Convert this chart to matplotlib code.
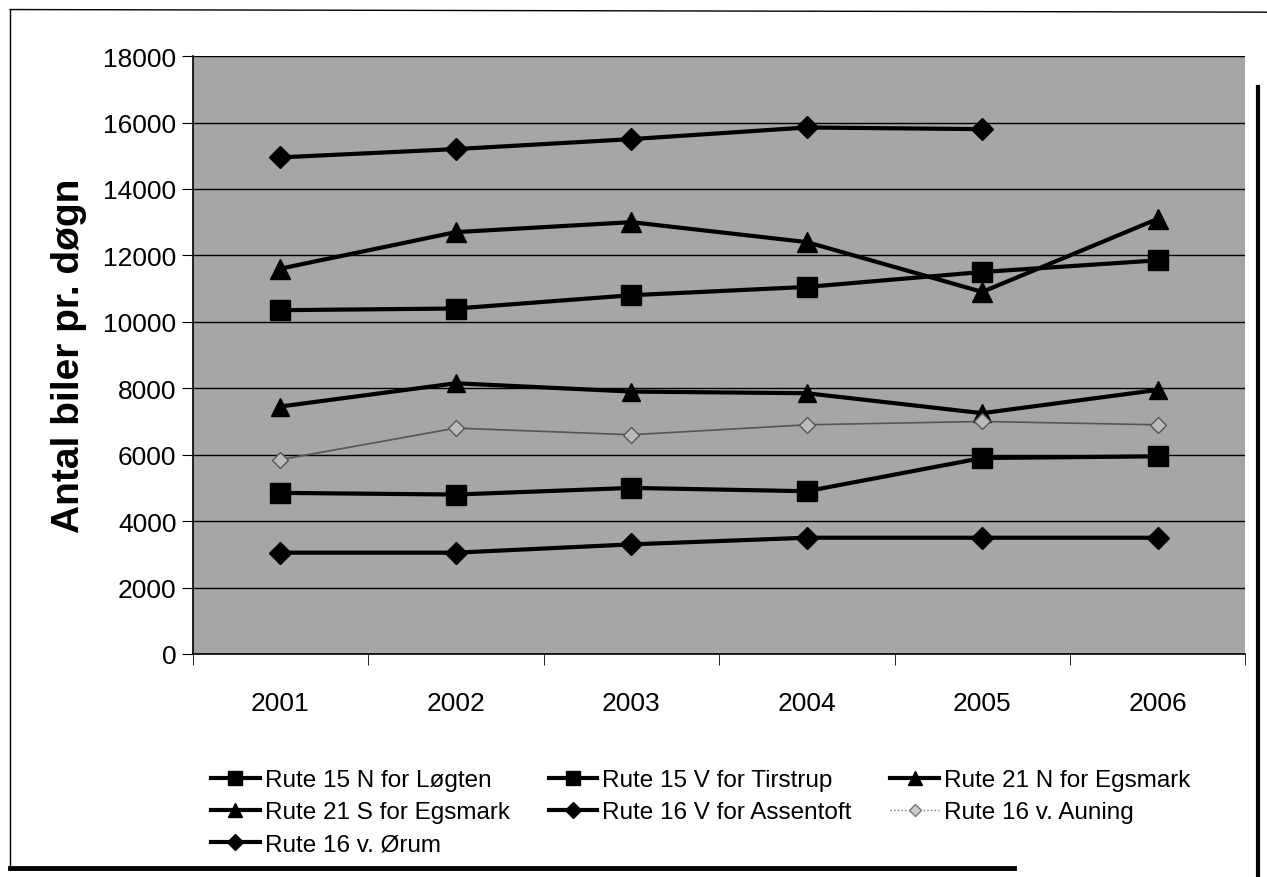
import matplotlib
matplotlib.use("Agg")
import matplotlib.pyplot as plt
from matplotlib.lines import Line2D

# data
years = ["2001", "2002", "2003", "2004", "2005", "2006"]
r15n_loegten = [10350, 10400, 10800, 11050, 11500, 11850]
r15v_tirstrup = [4850, 4800, 5000, 4900, 5900, 5950]
r21n_egsmark = [11600, 12700, 13000, 12400, 10900, 13100]
r21s_egsmark = [7450, 8150, 7900, 7850, 7250, 7950]
r16v_assentoft = [14950, 15200, 15500, 15850, 15800, None]
r16_auning = [5850, 6800, 6600, 6900, 7000, 6900]
r16_oerum = [3050, 3050, 3300, 3500, 3500, 3500]

labels = ["Rute 15 N for Løgten", "Rute 15 V for Tirstrup", "Rute 21 N for Egsmark",
          "Rute 21 S for Egsmark", "Rute 16 V for Assentoft", "Rute 16 v. Auning",
          "Rute 16 v. Ørum"]

plt.rcParams['font.family'] = ['Liberation Sans', 'DejaVu Sans']

fig = plt.figure(figsize=(12.67, 8.78), dpi=100)
ax = fig.add_axes([0.152, 0.254, 0.831, 0.681])
ax.set_facecolor('#a6a6a6')

x = list(range(1, len(years) + 1))

def clean(vals):
    xs = [xi for xi, v in zip(x, vals) if v is not None]
    ys = [v for v in vals if v is not None]
    return xs, ys

series = [
    (r15n_loegten, 's', 'black', 3, 14),
    (r15v_tirstrup, 's', 'black', 3, 14),
    (r21n_egsmark, '^', 'black', 3, 14),
    (r21s_egsmark, '^', 'black', 3, 13),
    (r16v_assentoft, 'D', 'black', 3, 11),
    (r16_auning, 'D', '#555555', 1.2, 8),
    (r16_oerum, 'D', 'black', 3, 11),
]

handles = []
for (vals, mk, col, lw, ms), lab in zip(series, labels):
    xs, ys = clean(vals)
    if col == 'black':
        ax.plot(xs, ys, color=col, lw=lw, marker=mk, ms=ms, zorder=3)
        h = Line2D([], [], color=col, lw=lw, marker=mk, ms=ms * 0.75)
    else:
        ax.plot(xs, ys, color=col, lw=lw, ls='-', marker=mk, ms=ms,
                mfc='#bbbbbb', mec='#555555', zorder=3)
        h = Line2D([], [], color='#777777', lw=1, ls=':', marker=mk, ms=6,
                   mfc='#cccccc', mec='#777777')
    handles.append(h)

ax.set_xlim(0.5, 6.5)
ax.set_ylim(0, 18000)
ax.set_yticks(range(0, 18001, 2000))
ax.yaxis.grid(True, color='black', lw=1)
ax.set_axisbelow(True)
ax.set_xticks(x)
ax.set_xticklabels(years, fontsize=19)
ax.set_xticks([i + 0.5 for i in range(0, 7)], minor=True)
ax.tick_params(axis='x', which='major', length=0, pad=27)
ax.tick_params(axis='x', which='minor', length=8, direction='out')
ax.tick_params(axis='y', labelsize=19, length=8, direction='out')
for s in ['top', 'right']:
    ax.spines[s].set_visible(False)
ax.spines['left'].set_linewidth(1.2)
ax.spines['bottom'].set_linewidth(1.2)
ax.set_ylabel("Antal biler pr. døgn", fontsize=28, fontweight='bold', labelpad=12)

# legend fills column-wise, reorder so rows read left to right
order = [0, 3, 6, 1, 4, 2, 5]
fig.legend([handles[i] for i in order], [labels[i] for i in order],
           loc='upper left', bbox_to_anchor=(0.159, 0.134),
           ncol=3, frameon=False, fontsize=17.5, handlelength=2.0,
           columnspacing=1.6, labelspacing=0.42, handletextpad=0.2,
           borderaxespad=0)

# scan frame
fig.add_artist(Line2D([0.008, 0.008], [0.012, 0.988], color='black', lw=1, transform=fig.transFigure))
fig.add_artist(Line2D([0.008, 1.0], [0.988, 0.985], color='black', lw=1, transform=fig.transFigure))
fig.add_artist(Line2D([0.008, 0.80], [0.010, 0.010], color='black', lw=3.5, transform=fig.transFigure))
fig.add_artist(Line2D([0.993, 0.993], [0.0, 0.90], color='black', lw=3, transform=fig.transFigure))

fig.savefig("out.png", dpi=100)
